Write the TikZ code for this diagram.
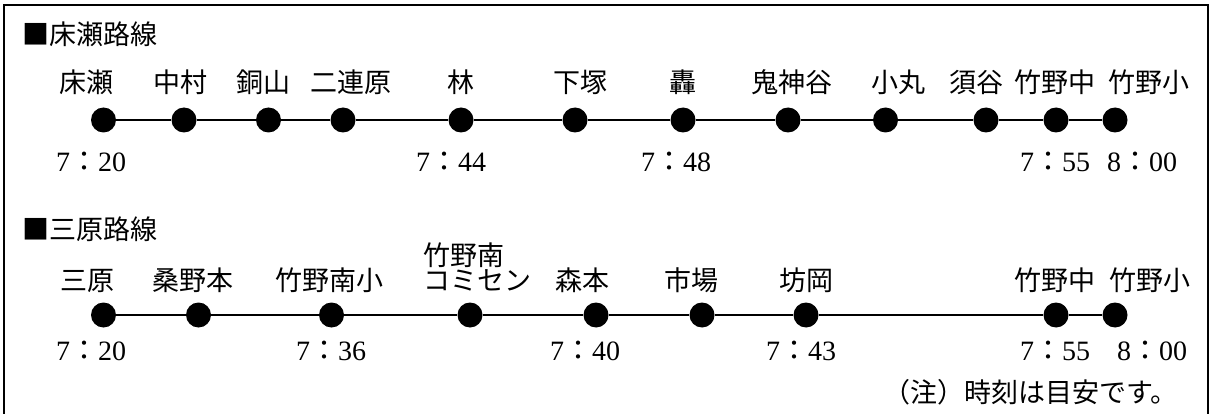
\documentclass[tikz,border=0pt]{standalone}
\usepackage{fontspec}
\setmainfont{Liberation Serif}
\newfontfamily\jpf{Noto Sans CJK JP}
\newcommand\tmx[2]{#1{\jpf ：}#2}
\begin{document}
\begin{tikzpicture}[x=1pt,y=-1pt,
  stopdot/.style={circle,fill=black,inner sep=0pt,minimum size=25pt},
  lbl/.style={font=\fontsize{27pt}{27pt}\selectfont\jpf,inner sep=0pt,anchor=base},
  ttl/.style={font=\fontsize{27pt}{27pt}\selectfont\jpf,inner sep=0pt,anchor=base west},
  tim/.style={font=\fontsize{28pt}{28pt}\selectfont,inner sep=0pt,anchor=base},
  rail/.style={line width=2.2pt},
  frm/.style={line width=1.6pt}]
\useasboundingbox (0,0) rectangle (1215,414);
\fill[white] (0,0) rectangle (1215,414);
% frame (open at bottom)
\coordinate (fbl) at (4,430);
\coordinate (ftl) at (4,5);
\coordinate (ftr) at (1208,5);
\coordinate (fbr) at (1208,430);
\draw[frm] (fbl) -- (ftl) -- (ftr) -- (fbr);

% ---------- route 1 ----------
\node[ttl] (t1) at (22,45) {■床瀬路線};
\foreach \n/\x in {a1/103.5,a2/184,a3/268.5,a4/343,a5/461,a6/575,a7/683,a8/788,a9/885.5,a10/986,a11/1056,a12/1115}
  \node[stopdot] (\n) at (\x,120) {};
\draw[rail] (a1) -- (a2) -- (a3) -- (a4) -- (a5) -- (a6) -- (a7) -- (a8) -- (a9) -- (a10) -- (a11) -- (a12);
\foreach \n/\x/\s in {la1/86.5/床瀬,la2/180/中村,la3/263/銅山,la4/351/二連原,la5/461/林,la6/580/下塚,la7/683/轟,la8/792/鬼神谷,la9/898/小丸,la10/976/須谷,la11/1055/竹野中,la12/1149/竹野小}
  \node[lbl] (\n) at (\x,93) {\s};
\node[tim] (ta1) at (91,172) {\tmx{7}{20}};
\node[tim] (ta5) at (451,172) {\tmx{7}{44}};
\node[tim] (ta7) at (676,172) {\tmx{7}{48}};
\node[tim] (ta11) at (1055,172) {\tmx{7}{55}};
\node[tim] (ta12) at (1142,172) {\tmx{8}{00}};

% ---------- route 2 ----------
\node[ttl] (t2) at (22,240) {■三原路線};
\foreach \n/\x in {b1/103.5,b2/198.5,b3/331.5,b4/470,b5/596,b6/702,b7/806,b8/1056,b9/1115}
  \node[stopdot] (\n) at (\x,315) {};
\draw[rail] (b1) -- (b2) -- (b3) -- (b4) -- (b5) -- (b6) -- (b7) -- (b8) -- (b9);
\foreach \n/\x/\s in {lb1/87.5/三原,lb2/192.5/桑野本,lb3/329/竹野南小,lb5/582/森本,lb6/691/市場,lb7/806/坊岡,lb8/1055/竹野中,lb9/1150/竹野小}
  \node[lbl] (\n) at (\x,290) {\s};
\node[lbl,anchor=base west] (lb4a) at (423,265.5) {竹野南};
\node[lbl,anchor=base west] (lb4b) at (423,290.5) {コミセン};
\node[tim] (tb1) at (91,360) {\tmx{7}{20}};
\node[tim] (tb3) at (331,360) {\tmx{7}{36}};
\node[tim] (tb5) at (585,360) {\tmx{7}{40}};
\node[tim] (tb7) at (801,360) {\tmx{7}{43}};
\node[tim] (tb8) at (1055,360) {\tmx{7}{55}};
\node[tim] (tb9) at (1152,360) {\tmx{8}{00}};
\node[lbl,anchor=base east] (note) at (1178,402.5) {（注）時刻は目安です。};
\end{tikzpicture}
\end{document}
